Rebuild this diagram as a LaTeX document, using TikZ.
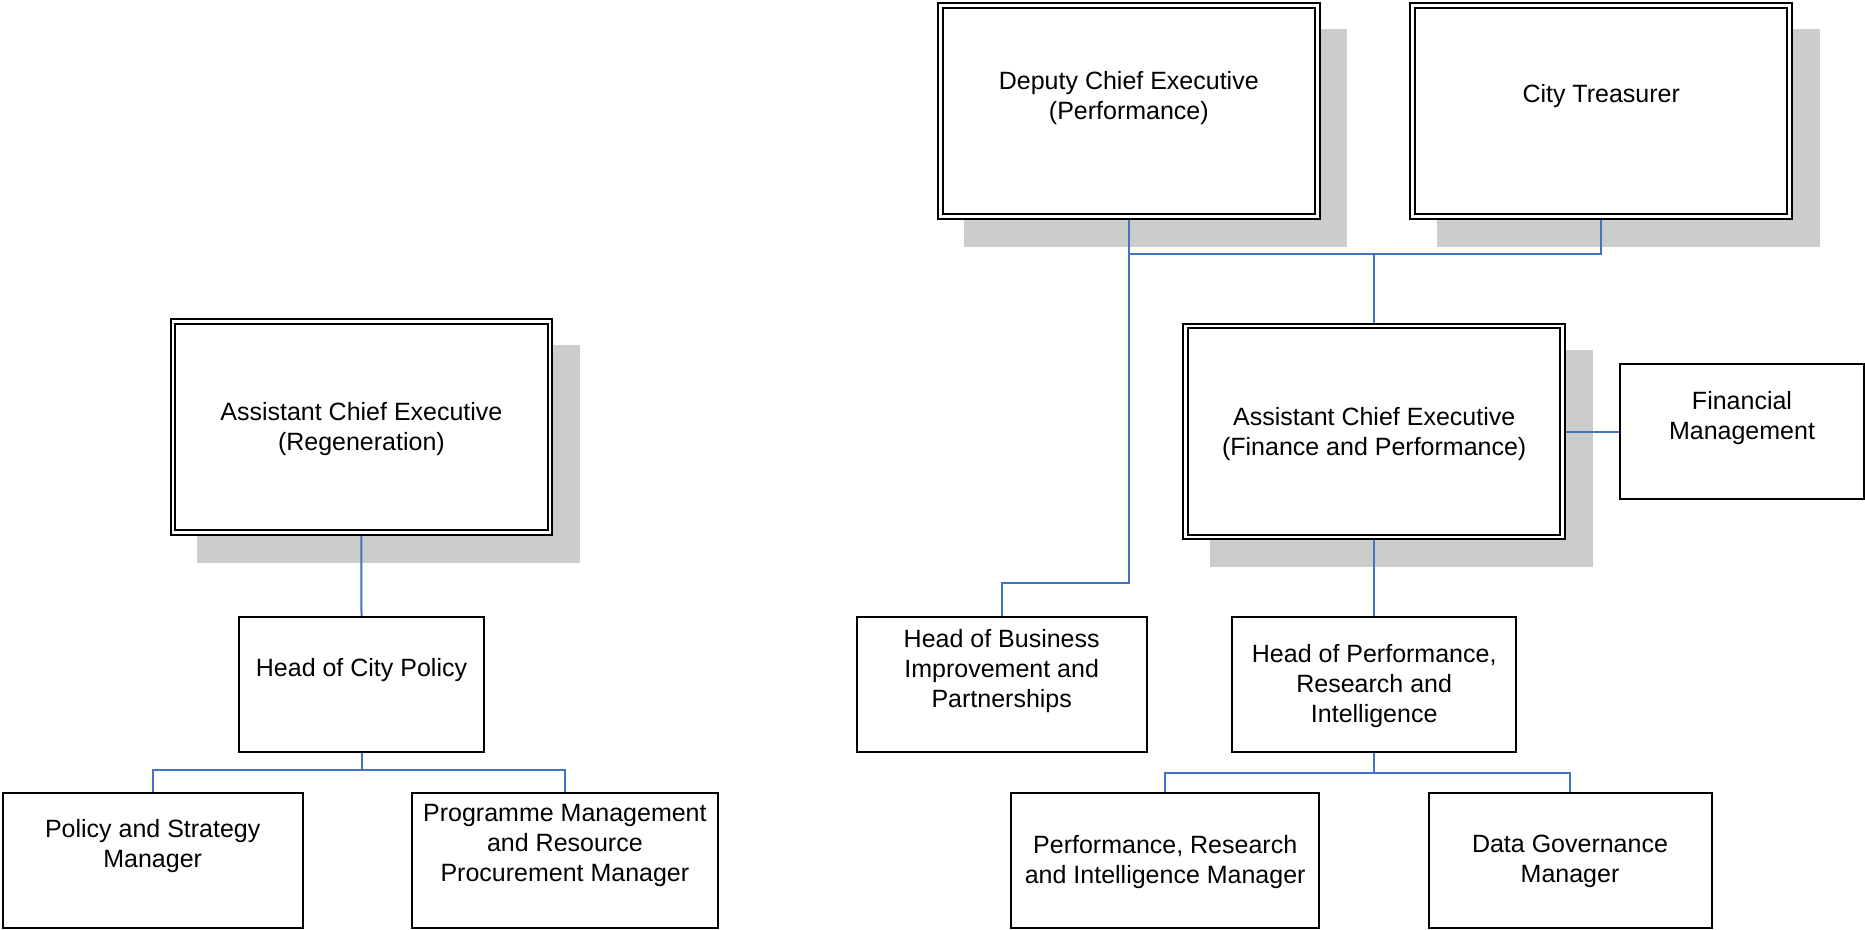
\documentclass[tikz,border=0pt]{standalone}
\usepackage{fontspec}
\setmainfont{Liberation Sans}
\pgfdeclarelayer{shadow}
\pgfdeclarelayer{links}
\pgfsetlayers{shadow,links,main}
\definecolor{linkblue}{RGB}{68,114,196}
\definecolor{shadowgray}{RGB}{204,204,204}
\tikzset{
  dbox/.style={draw=black, line width=1.9pt, double=white, double distance=2.7pt,
    fill=white, inner sep=0pt, outer sep=0pt,
    minimum width=377pt, minimum height=211pt},
  sbox/.style={draw=black, line width=2pt, fill=white, inner sep=0pt, outer sep=0pt},
  txt/.style={align=center, inner sep=0pt, anchor=north,
    font=\fontsize{25pt}{30pt}\selectfont},
  link/.style={draw=linkblue, line width=2pt},
  shadowfill/.style={fill=shadowgray}
}
\begin{document}
\begin{tikzpicture}[x=1pt, y=-1pt]
\useasboundingbox (0,0) rectangle (1865,929);

% executive boxes (double border)
\node[dbox] (dce)  at (1128.8,111) {};
\node[dbox] (ct)   at (1601.2,111) {};
\node[dbox] (acer) at (361.4,427) {};
\node[dbox] (acef) at (1374.2,431.5) {};

% single-border boxes
\node[sbox, minimum width=244pt, minimum height=135pt] (fm)    at (1742,431.5) {};
\node[sbox, minimum width=290pt, minimum height=135pt] (hbi)   at (1001.7,684.3) {};
\node[sbox, minimum width=284pt, minimum height=135pt] (hpri)  at (1374.2,684.3) {};
\node[sbox, minimum width=245pt, minimum height=135pt] (hcp)   at (361.5,684.3) {};
\node[sbox, minimum width=300pt, minimum height=135pt] (psm)   at (152.7,860) {};
\node[sbox, minimum width=306pt, minimum height=135pt] (pmrpm) at (564.9,860) {};
\node[sbox, minimum width=308pt, minimum height=135pt] (prim)  at (1165.2,860) {};
\node[sbox, minimum width=283pt, minimum height=135pt] (dgm)   at (1570,860) {};

% labels
\node[txt] (dce-t)   at (1128.8,71.3) {Deputy Chief Executive\\(Performance)};
\node[txt] (ct-t)    at (1601.2,83.7) {City Treasurer};
\node[txt] (acer-t)  at (361.4,402) {Assistant Chief Executive\\(Regeneration)};
\node[txt] (acef-t)  at (1374.2,407) {Assistant Chief Executive\\(Finance and Performance)};
\node[txt] (fm-t)    at (1742,391.3) {Financial\\Management};
\node[txt] (hbi-t)   at (1001.7,629) {Head of Business\\Improvement and\\Partnerships};
\node[txt] (hpri-t)  at (1374.2,644) {Head of Performance,\\Research and\\Intelligence};
\node[txt] (hcp-t)   at (361.5,658) {Head of City Policy};
\node[txt] (psm-t)   at (152.7,819.3) {Policy and Strategy\\Manager};
\node[txt] (pmrpm-t) at (564.9,803.7) {Programme Management\\and Resource\\Procurement Manager};
\node[txt] (prim-t)  at (1165.2,835) {Performance, Research\\and Intelligence Manager};
\node[txt] (dgm-t)   at (1570,835) {Data Governance\\Manager};

% drop shadows behind the executive boxes
\begin{pgfonlayer}{shadow}
\foreach \b in {dce,ct,acer,acef}
  \fill[shadowfill] ([shift={(23.9,23.9)}]\b.north west) rectangle ([shift={(30.1,30.1)}]\b.south east);
\end{pgfonlayer}

% reporting lines
\coordinate (topbus) at (0,254);
\coordinate (elbow)  at (0,582.7);
\coordinate (cpbus)  at (0,770);
\coordinate (prbus)  at (0,773.3);
\begin{pgfonlayer}{links}
\draw[link] (dce.south) |- (ct.south |- topbus) -- (ct.south);
\draw[link] (acef.north) -- (acef.north |- topbus);
\draw[link] (dce.south) -- (dce.south |- elbow) -| (hbi.north);
\draw[link] (acef.east) -- (acef.east -| fm.west);
\draw[link] (acef.south) -- (hpri.north);
\draw[link] (hpri.south) -- (hpri.south |- prbus);
\draw[link] (prim.north) |- (dgm.north |- prbus) -- (dgm.north);
\draw[link] (acer.south) -- (hcp.north);
\draw[link] (hcp.south) -- (hcp.south |- cpbus);
\draw[link] (psm.north) |- (pmrpm.north |- cpbus) -- (pmrpm.north);
\end{pgfonlayer}
\end{tikzpicture}
\end{document}
